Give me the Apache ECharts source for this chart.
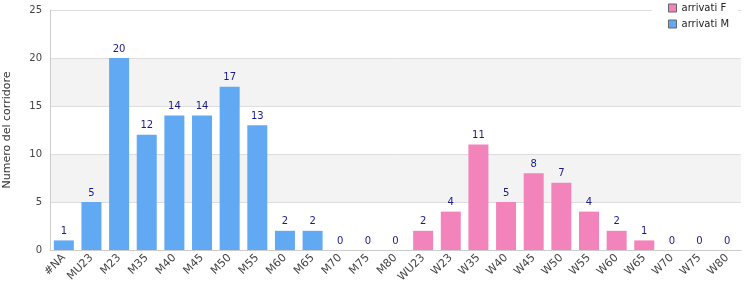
<!DOCTYPE html>
<html><head><meta charset="utf-8">
<script src="https://cdn.jsdelivr.net/npm/echarts@6/dist/echarts.min.js"></script>
<style>html,body{margin:0;padding:0;background:#fff}#c{width:750px;height:300px}</style>
</head><body><div id="c"></div>
<script>
var categories = ['#NA','MU23','M23','M35','M40','M45','M50','M55','M60','M65','M70','M75','M80','WU23','W23','W35','W40','W45','W50','W55','W60','W65','W70','W75','W80'];
var maleValues = [1,5,20,12,14,14,17,13,2,2,0,0,0,null,null,null,null,null,null,null,null,null,null,null,null];
var femaleValues = [null,null,null,null,null,null,null,null,null,null,null,null,null,2,4,11,5,8,7,4,2,1,0,0,0];
var yTicks = [0,5,10,15,20,25];
var chart = echarts.init(document.getElementById('c'), null, {renderer:'canvas'});
var lbl = {show:true, position:'top', color:'#1a1a8a', fontSize:10, fontFamily:'DejaVu Sans', distance:4,
  formatter:function(p){return p.value==null?'':p.value;}};
chart.setOption({
  animation:false,
  grid:{left:50, right:9, top:10, bottom:50, containLabel:false, outerBoundsMode:'none'},
  legend:{left:652, top:0, orient:'vertical', itemWidth:8, itemHeight:8, itemGap:6, icon:'rect',
    backgroundColor:'#fff', padding:[3,9,4,16],
    textStyle:{fontSize:10, color:'#222', fontFamily:'DejaVu Sans'},
    data:[{name:'arrivati F', itemStyle:{borderColor:'#666',borderWidth:1}},{name:'arrivati M', itemStyle:{borderColor:'#666',borderWidth:1}}]},
  xAxis:{type:'category', data:categories, boundaryGap:true,
    axisLine:{lineStyle:{color:'#ccc'}}, axisTick:{show:false},
    axisLabel:{rotate:45, interval:0, color:'#444', fontSize:11, fontFamily:'DejaVu Sans', margin:6}},
  yAxis:{type:'value', min:0, max:25, interval:5, name:'Numero del corridore', nameLocation:'middle', nameGap:37,
    nameTextStyle:{fontSize:11, color:'#333', fontFamily:'DejaVu Sans'},
    axisLine:{show:true, lineStyle:{color:'#ccc'}}, axisTick:{show:false},
    axisLabel:{color:'#444', fontSize:10, fontFamily:'DejaVu Sans', margin:8,
      formatter:function(v){return yTicks.indexOf(v)>=0?String(v):'';}},
    splitLine:{show:true, lineStyle:{color:'#ddd'}},
    splitArea:{show:true, areaStyle:{color:['#fff','#f3f3f3']}}},
  series:[
    {name:'arrivati M', type:'bar', stack:'a', data:maleValues, barWidth:20, itemStyle:{color:'#62a9f3'}, label:lbl},
    {name:'arrivati F', type:'bar', stack:'a', data:femaleValues, barWidth:20, itemStyle:{color:'#f384bb'}, label:lbl}
  ]
});
</script></body></html>
